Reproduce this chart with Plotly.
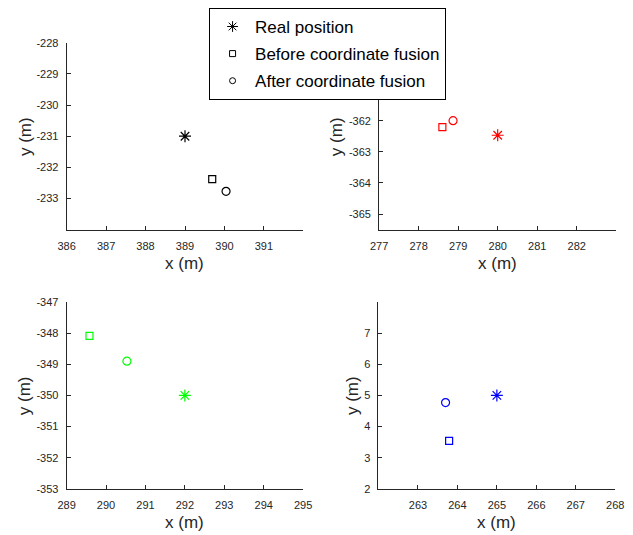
import plotly.graph_objects as go

# Positions (m) for the four test points: real, before fusion, after fusion
real_x = [389.0, 280.0, 292.0, 265.0]
real_y = [-231.0, -362.47, -350.0, 5.0]
before_x = [389.69, 278.60, 289.58, 263.79]
before_y = [-232.38, -362.21, -348.09, 3.54]
after_x = [390.04, 278.87, 290.53, 263.70]
after_y = [-232.77, -362.00, -348.90, 4.77]

colors = ["#000000", "#ff0000", "#00ff00", "#0000ff"]

x_ranges = [[386, 392], [277, 283], [289, 295], [262, 268]]
y_ranges = [[-234, -228], [-365.5, -359.5], [-353, -347], [2, 8]]
x_ticks = [list(range(386, 392)), list(range(277, 283)), list(range(289, 296)), list(range(263, 269))]
y_ticks = [list(range(-233, -227)), list(range(-365, -361)), list(range(-353, -346)), list(range(2, 8))]

x_title = "x (m)"
y_title = "y (m)"

W, H = 633, 535
# plot-area boxes in pixels: (left, right, top, bottom)
boxes = [(59.3, 303.0, 37.7, 228.7), (381.0, 625.0, 37.7, 228.7),
         (59.3, 302.7, 302.7, 494.0), (380.3, 624.0, 302.7, 494.0)]
# axis-title anchor positions in pixels
x_title_y = [263, 263, 528, 528]
y_title_x = [16.3, 336.5, 16.3, 353.7]

axis_color = "#262626"
font_family = "Liberation Sans, Arial, sans-serif"


def tick_text(vals):
    # plain hyphen-minus for negative numbers
    return [str(v) for v in vals]


fig = go.Figure()

for i in range(4):
    xa = "x" if i == 0 else f"x{i + 1}"
    ya = "y" if i == 0 else f"y{i + 1}"
    c = colors[i]
    fig.add_trace(go.Scatter(x=[real_x[i]], y=[real_y[i]], mode="markers", xaxis=xa, yaxis=ya,
                             showlegend=False,
                             marker=dict(symbol="asterisk-open", size=10, color=c,
                                         line=dict(color=c, width=1.2))))
    fig.add_trace(go.Scatter(x=[before_x[i]], y=[before_y[i]], mode="markers", xaxis=xa, yaxis=ya,
                             showlegend=False,
                             marker=dict(symbol="square-open", size=7, color=c,
                                         line=dict(color=c, width=1.2))))
    fig.add_trace(go.Scatter(x=[after_x[i]], y=[after_y[i]], mode="markers", xaxis=xa, yaxis=ya,
                             showlegend=False,
                             marker=dict(symbol="circle-open", size=8, color=c,
                                         line=dict(color=c, width=1.2))))

# Legend entries drawn in black
legend_items = [("Real position", "asterisk-open", 9), ("Before coordinate fusion", "square-open", 6),
                ("After coordinate fusion", "circle-open", 6)]
for k, (name, sym, sz) in enumerate(legend_items):
    fig.add_trace(go.Scatter(x=[None], y=[None], mode="markers", name=name, legendgroup=f"g{k}",
                             marker=dict(symbol=sym, size=sz, color="black",
                                         line=dict(color="black", width=1))))

annotations = []
layout = dict(
    width=W, height=H,
    margin=dict(l=0, r=0, t=0, b=0),
    paper_bgcolor="white", plot_bgcolor="white",
    font=dict(family=font_family, color=axis_color),
    legend=dict(x=0.518, xanchor="center", y=1 - 2 / H, yanchor="top",
                bgcolor="white", bordercolor="#000000", borderwidth=1,
                font=dict(size=17, color="#000000", family=font_family),
                tracegroupgap=2, itemwidth=35),
)

for i in range(4):
    xk = "xaxis" if i == 0 else f"xaxis{i + 1}"
    yk = "yaxis" if i == 0 else f"yaxis{i + 1}"
    ya = "y" if i == 0 else f"y{i + 1}"
    xa = "x" if i == 0 else f"x{i + 1}"
    left, right, top, bottom = boxes[i]
    common = dict(showgrid=False, zeroline=False, showline=True, linecolor=axis_color, linewidth=1,
                  ticks="inside", ticklen=4, tickcolor=axis_color, tickwidth=1,
                  tickfont=dict(size=11, color=axis_color, family=font_family),
                  fixedrange=True)
    layout[xk] = dict(common, domain=[left / W, right / W], range=x_ranges[i],
                      tickvals=x_ticks[i], ticktext=tick_text(x_ticks[i]),
                      anchor=ya, ticklabelstandoff=6)
    layout[yk] = dict(common, domain=[1 - bottom / H, 1 - top / H], range=y_ranges[i],
                      tickvals=y_ticks[i], ticktext=tick_text(y_ticks[i]),
                      anchor=xa, ticklabelstandoff=5)
    annotations.append(dict(text=x_title, xref="paper", yref="paper",
                            x=(left + right) / 2 / W, y=1 - x_title_y[i] / H,
                            xanchor="center", yanchor="middle", showarrow=False,
                            font=dict(size=17, color=axis_color, family=font_family)))
    annotations.append(dict(text=y_title, xref="paper", yref="paper", textangle=-90,
                            x=y_title_x[i] / W, y=1 - (top + bottom) / 2 / H,
                            xanchor="center", yanchor="middle", showarrow=False,
                            font=dict(size=17, color=axis_color, family=font_family)))

layout["annotations"] = annotations
fig.update_layout(**layout)
fig.write_html("out.html")
